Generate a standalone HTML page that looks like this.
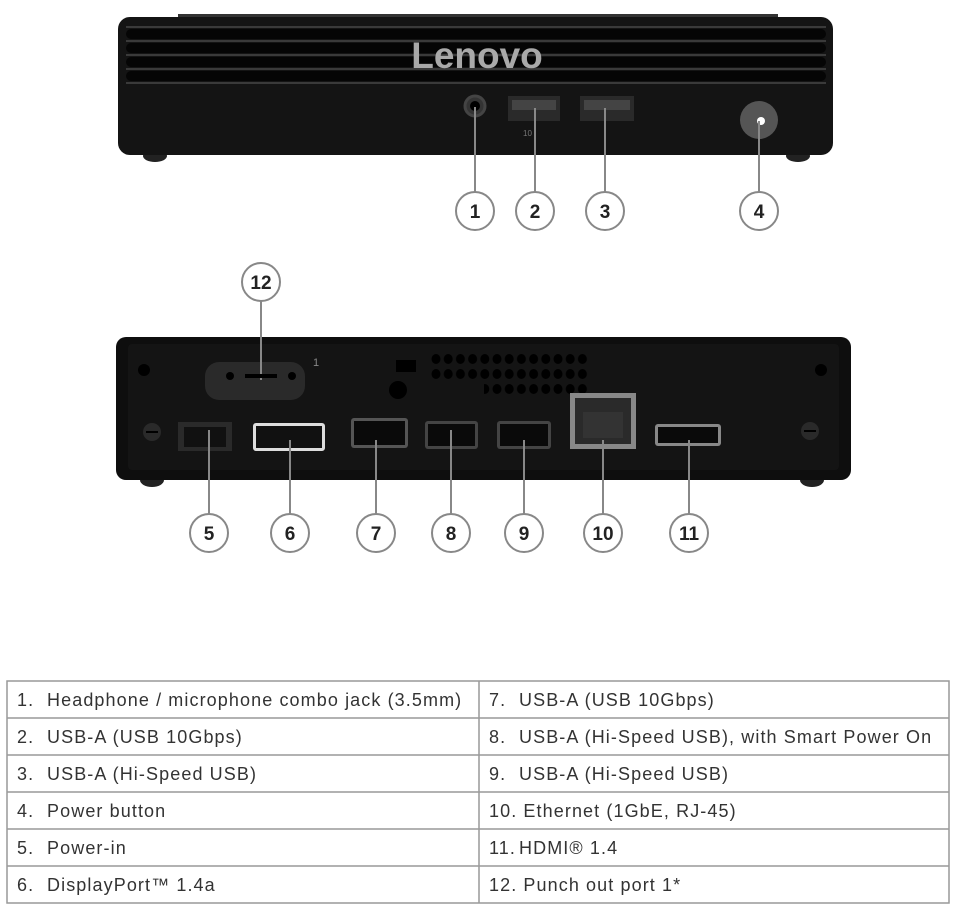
<!DOCTYPE html>
<html><head><style>
body{margin:0;background:#fff;}
svg{display:block;}
text{font-family:"Liberation Sans",sans-serif;}
</style></head><body>
<svg width="957" height="912" viewBox="0 0 957 912" xmlns="http://www.w3.org/2000/svg">
<defs>
<pattern id="holes" x="430" y="352" width="12.2" height="15" patternUnits="userSpaceOnUse">
<ellipse cx="6" cy="7" rx="4.5" ry="5" fill="#000"/>
</pattern>
</defs>
<!-- TOP DEVICE -->
<rect x="178" y="14" width="600" height="6" fill="#333"/>
<ellipse cx="155" cy="156" rx="12" ry="6" fill="#222"/>
<ellipse cx="798" cy="156" rx="12" ry="6" fill="#222"/>
<rect x="118" y="17" width="715" height="138" rx="12" fill="#141414"/>
<g stroke="#3a3a3a" stroke-width="2">
<line x1="126" y1="27" x2="826" y2="27"/>
<line x1="126" y1="41" x2="826" y2="41"/>
<line x1="126" y1="55" x2="826" y2="55"/>
<line x1="126" y1="69" x2="826" y2="69"/>
<line x1="126" y1="83" x2="826" y2="83"/>
</g>
<g fill="#050505">
<rect x="126" y="29" width="700" height="10" rx="5"/>
<rect x="126" y="43" width="700" height="10" rx="5"/>
<rect x="126" y="57" width="700" height="10" rx="5"/>
<rect x="126" y="71" width="700" height="10" rx="5"/>
</g>
<text x="477" y="68" font-size="37" font-weight="bold" fill="#a9a9a9" text-anchor="middle">Lenovo</text>
<circle cx="475" cy="106" r="10" fill="#333" stroke="#444" stroke-width="3"/>
<circle cx="475" cy="106" r="5" fill="#000"/>
<rect x="508" y="96" width="52" height="25" fill="#2a2a2a"/><rect x="512" y="100" width="44" height="10" fill="#444"/>
<rect x="580" y="96" width="54" height="25" fill="#2a2a2a"/><rect x="584" y="100" width="46" height="10" fill="#444"/>
<text x="523" y="136" font-size="8" fill="#777">10</text>
<circle cx="759" cy="120" r="19" fill="#555"/><circle cx="761" cy="121" r="4" fill="#fff"/>
<!-- BACK DEVICE -->
<ellipse cx="152" cy="480" rx="12" ry="7" fill="#222"/>
<ellipse cx="812" cy="480" rx="12" ry="7" fill="#222"/>
<rect x="116" y="337" width="735" height="143" rx="10" fill="#0e0e0e"/>
<rect x="128" y="344" width="711" height="126" rx="4" fill="#141414"/>
<circle cx="144" cy="370" r="6" fill="#000"/><circle cx="821" cy="370" r="6" fill="#000"/>
<circle cx="152" cy="432" r="9" fill="#2a2a2a"/><rect x="146" y="431" width="12" height="2" fill="#000"/>
<circle cx="810" cy="431" r="9" fill="#2a2a2a"/><rect x="804" y="430" width="12" height="2" fill="#000"/>
<rect x="205" y="362" width="100" height="38" rx="14" fill="#2a2a2a"/>
<circle cx="230" cy="376" r="4" fill="#000"/><circle cx="292" cy="376" r="4" fill="#000"/>
<text x="313" y="366" font-size="11" fill="#888">1</text>
<rect x="396" y="360" width="20" height="12" fill="#000"/>
<circle cx="398" cy="390" r="9" fill="#000"/>
<rect x="430" y="352" width="158" height="30" fill="url(#holes)"/>
<rect x="484" y="382" width="104" height="15" fill="url(#holes)"/>
<rect x="178" y="422" width="54" height="29" fill="#2a2a2a"/><rect x="184" y="427" width="42" height="20" fill="#111"/>
<rect x="253" y="423" width="72" height="28" rx="3" fill="#ddd"/><rect x="256" y="426" width="66" height="22" fill="#111"/>
<rect x="351" y="418" width="57" height="30" rx="3" fill="#555"/><rect x="354" y="421" width="51" height="24" fill="#0a0a0a"/>
<rect x="425" y="421" width="53" height="28" rx="3" fill="#444"/><rect x="428" y="424" width="47" height="22" fill="#0a0a0a"/>
<rect x="497" y="421" width="54" height="28" rx="3" fill="#444"/><rect x="500" y="424" width="48" height="22" fill="#0a0a0a"/>
<rect x="570" y="393" width="66" height="56" fill="#888"/><rect x="575" y="398" width="56" height="46" fill="#2a2a2a"/>
<rect x="583" y="412" width="40" height="26" fill="#333"/>
<rect x="655" y="424" width="66" height="22" rx="3" fill="#888"/><rect x="658" y="427" width="60" height="16" fill="#0a0a0a"/>
<!-- connector lines -->
<g stroke="#888" stroke-width="2">
<line x1="475" y1="107" x2="475" y2="192"/>
<line x1="535" y1="108" x2="535" y2="192"/>
<line x1="605" y1="108" x2="605" y2="192"/>
<line x1="759" y1="121" x2="759" y2="192"/>
<line x1="261" y1="301" x2="261" y2="380"/>
<line x1="209" y1="430" x2="209" y2="514"/>
<line x1="290" y1="440" x2="290" y2="514"/>
<line x1="376" y1="440" x2="376" y2="514"/>
<line x1="451" y1="430" x2="451" y2="514"/>
<line x1="524" y1="440" x2="524" y2="514"/>
<line x1="603" y1="440" x2="603" y2="514"/>
<line x1="689" y1="440" x2="689" y2="514"/>
</g>
<line x1="245" y1="376" x2="277" y2="376" stroke="#000" stroke-width="4"/>
<!-- circles -->
<g fill="#fff" stroke="#888" stroke-width="2">
<circle cx="475" cy="211" r="19"/><circle cx="535" cy="211" r="19"/><circle cx="605" cy="211" r="19"/><circle cx="759" cy="211" r="19"/>
<circle cx="261" cy="282" r="19"/>
<circle cx="209" cy="533" r="19"/><circle cx="290" cy="533" r="19"/><circle cx="376" cy="533" r="19"/><circle cx="451" cy="533" r="19"/><circle cx="524" cy="533" r="19"/><circle cx="603" cy="533" r="19"/><circle cx="689" cy="533" r="19"/>
</g>
<g font-size="19" font-weight="bold" fill="#222" text-anchor="middle">
<text x="475" y="218">1</text><text x="535" y="218">2</text><text x="605" y="218">3</text><text x="759" y="218">4</text>
<text x="261" y="289">12</text>
<text x="209" y="540">5</text><text x="290" y="540">6</text><text x="376" y="540">7</text><text x="451" y="540">8</text><text x="524" y="540">9</text><text x="603" y="540">10</text><text x="689" y="540">11</text>
</g>
<!-- TABLE -->
<g stroke="#999" stroke-width="1.5" fill="none">
<rect x="7" y="681" width="942" height="222"/>
<line x1="479" y1="681" x2="479" y2="903"/>
<line x1="7" y1="718" x2="949" y2="718"/>
<line x1="7" y1="755" x2="949" y2="755"/>
<line x1="7" y1="792" x2="949" y2="792"/>
<line x1="7" y1="829" x2="949" y2="829"/>
<line x1="7" y1="866" x2="949" y2="866"/>
</g>
<g font-size="18" fill="#333" letter-spacing="1.1">
<text x="17" y="706">1.</text><text x="47" y="706">Headphone / microphone combo jack (3.5mm)</text>
<text x="17" y="743">2.</text><text x="47" y="743">USB-A (USB 10Gbps)</text>
<text x="17" y="780">3.</text><text x="47" y="780">USB-A (Hi-Speed USB)</text>
<text x="17" y="817">4.</text><text x="47" y="817">Power button</text>
<text x="17" y="854">5.</text><text x="47" y="854">Power-in</text>
<text x="17" y="891">6.</text><text x="47" y="891">DisplayPort™ 1.4a</text>
<text x="489" y="706">7.</text><text x="519" y="706">USB-A (USB 10Gbps)</text>
<text x="489" y="743">8.</text><text x="519" y="743">USB-A (Hi-Speed USB), with Smart Power On</text>
<text x="489" y="780">9.</text><text x="519" y="780">USB-A (Hi-Speed USB)</text>
<text x="489" y="817">10. Ethernet (1GbE, RJ-45)</text>
<text x="489" y="854">11.</text><text x="519" y="854">HDMI® 1.4</text>
<text x="489" y="891">12. Punch out port 1*</text>
</g>
</svg>
</body></html>
